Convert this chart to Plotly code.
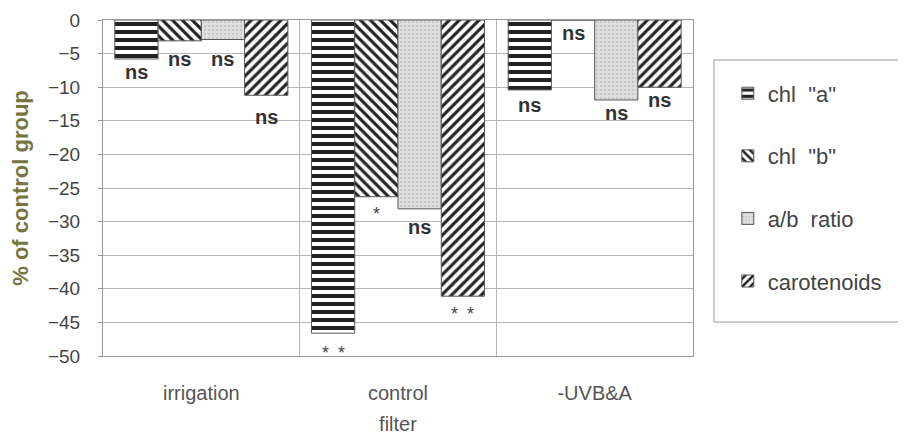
import plotly.graph_objects as go

# ---------------- data ----------------
categories = ["irrigation", "control", "-UVB&A"]
series_names = ['chl  "a"', 'chl  "b"', "a/b  ratio", "carotenoids"]

chl_a = [-5.8, -46.6, -10.4]
chl_b = [-3.1, -26.3, 0.0]
ab_ratio = [-2.9, -28.1, -11.9]
carotenoids = [-11.2, -41.1, -10.0]

# significance marks and where they sit (data units)
sig_chl_a = ["ns", "*\u2002*", "ns"]
sig_chl_b = ["ns", "*", "ns"]
sig_ratio = ["ns", "ns", "ns"]
sig_carot = ["ns", "*\u2002*", "ns"]
sig_y_chl_a = [-7.7, -49.5, -12.6]
sig_y_chl_b = [-5.8, -28.9, -1.9]
sig_y_ratio = [-5.8, -30.8, -13.8]
sig_y_carot = [-14.4, -43.7, -11.9]

y_ticks = [0, -5, -10, -15, -20, -25, -30, -35, -40, -45, -50]

# ---------------- styling ----------------
BARGAP = 0.12
FONT = "Liberation Sans, Arial, sans-serif"

styles = [
    dict(shape="-", fg="#222222", bg="white", size=8, sol=0.5),
    dict(shape="\\", fg="#222222", bg="white", size=7, sol=0.45),
    dict(shape=".", fg="#c9c9c9", bg="#e0e0e0", size=4, sol=0.3),
    dict(shape="/", fg="#222222", bg="white", size=7, sol=0.45),
]

all_vals = [chl_a, chl_b, ab_ratio, carotenoids]
all_sig = [sig_chl_a, sig_chl_b, sig_ratio, sig_carot]
all_sig_y = [sig_y_chl_a, sig_y_chl_b, sig_y_ratio, sig_y_carot]

fig = go.Figure()
for name, vals, st in zip(series_names, all_vals, styles):
    fig.add_trace(go.Bar(
        name=name, x=categories, y=vals, legendgroup=name,
        marker=dict(
            color=st["bg"],
            line=dict(color="#555555", width=1),
            pattern=dict(shape=st["shape"], fgcolor=st["fg"], bgcolor=st["bg"],
                         size=st["size"], solidity=st["sol"], fillmode="replace"),
        ),
    ))

# significance annotations
bw = (1 - BARGAP) / 4
for si, (sigs, ys) in enumerate(zip(all_sig, all_sig_y)):
    for ci, (txt, yv) in enumerate(zip(sigs, ys)):
        is_star = "*" in txt
        fig.add_annotation(
            x=ci + (si - 1.5) * bw, y=yv, xref="x", yref="y",
            text=txt if is_star else "<b>" + txt + "</b>", showarrow=False,
            font=dict(family=FONT, size=18 if is_star else 20,
                      color="#444444" if is_star else "#333333"),
        )

# legend frame (extends to the right edge)
fig.add_shape(type="rect", xref="paper", yref="paper",
              x0=1.0356, x1=1.36, y0=0.101, y1=0.881,
              line=dict(color="#9a9a9a", width=1), fillcolor="rgba(0,0,0,0)")

# page body has an 8px margin, so the figure is 8px smaller and shifted
fig.update_layout(
    width=898, height=427,
    margin=dict(l=95, r=213, t=12, b=79, autoexpand=False),
    paper_bgcolor="white", plot_bgcolor="white",
    barmode="group", bargap=BARGAP, bargroupgap=0,
    font=dict(family=FONT, color="#444444"),
    showlegend=True,
    legend=dict(
        x=1.059, y=0.844, xanchor="left", yanchor="top",
        bgcolor="rgba(0,0,0,0)", borderwidth=0,
        font=dict(family=FONT, size=22, color="#444444"),
        tracegroupgap=31, traceorder="grouped",
    ),
    xaxis=dict(
        type="category", tickson="boundaries", showgrid=True,
        gridcolor="#b5b5b5", gridwidth=1, automargin=False,
        showline=True, mirror=True, linecolor="#9a9a9a", linewidth=1,
        ticks="", tickfont=dict(family=FONT, size=20, color="#555555"),
        ticklabelstandoff=19,
        title=dict(text="filter", font=dict(family=FONT, size=20, color="#555555"),
                   standoff=19),
    ),
    yaxis=dict(
        range=[-50, 0], tickvals=y_ticks, showgrid=True, automargin=False,
        gridcolor="#b5b5b5", gridwidth=1, zeroline=False,
        showline=True, mirror=True, linecolor="#9a9a9a", linewidth=1,
        ticks="outside", ticklen=4, tickcolor="#9a9a9a",
        tickfont=dict(family=FONT, size=19, color="#444444"),
        ticklabelstandoff=14,
        title=dict(text="<b>% of control group</b>",
                   font=dict(family=FONT, size=22, color="#75753f"),
                   standoff=15),
    ),
)

fig.write_html("out.html")
